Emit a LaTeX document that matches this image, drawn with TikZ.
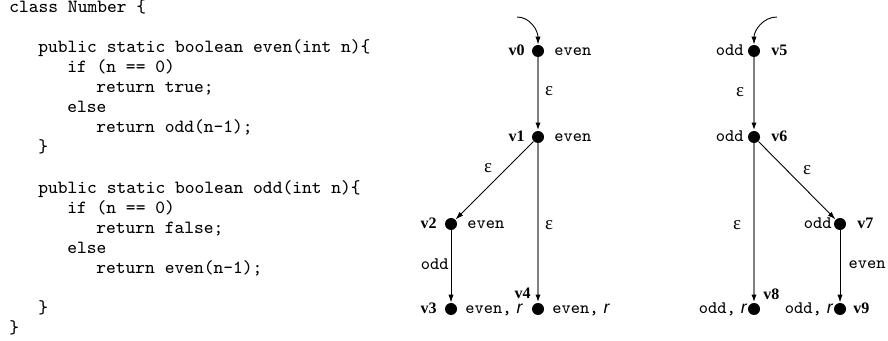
\documentclass[tikz,border=0pt]{standalone}
\usepackage{fontspec}
\setmainfont{Liberation Serif}
\newfontfamily\sansit{Liberation Sans}
\usetikzlibrary{arrows.meta}
\begin{document}
\begin{tikzpicture}[x=0.5pt,y=-0.5pt,
  code/.style={anchor=base west,inner sep=0pt,font=\fontsize{9.3}{10}\selectfont\ttfamily},
  dot/.style={circle,fill=black,inner sep=0pt,minimum size=6pt},
  tlbl/.style={inner sep=0pt,font=\fontsize{8.8}{10}\selectfont\ttfamily},
  vlbl/.style={inner sep=0pt,font=\fontsize{8}{10}\selectfont\bfseries},
  eps/.style={inner sep=0pt,font=\fontsize{9.5}{10}\selectfont},
  tip/.style={-{Latex[length=4pt,width=2.6pt,black]}},
  gedge/.style={tip,draw=black!50,line width=1.1pt},
  bedge/.style={tip,draw=black,line width=0.45pt}]
\useasboundingbox (0,0) rectangle (888,341);
% code
\node[code] (c1) at (9,13) {class Number \{};
\node[code] (c2) at (38,53) {public static boolean even(int n)\{};
\node[code] (c3) at (67,73) {if (n == 0)};
\node[code] (c4) at (96,93) {return true;};
\node[code] (c5) at (67,113) {else};
\node[code] (c6) at (96,133) {return odd(n-1);};
\node[code] (c7) at (38,153) {\}};
\node[code] (c8) at (38,194) {public static boolean odd(int n)\{};
\node[code] (c9) at (67,214) {if (n == 0)};
\node[code] (c10) at (96,234) {return false;};
\node[code] (c11) at (67,254) {else};
\node[code] (c12) at (96,274) {return even(n-1);};
\node[code] (c13) at (38,314) {\}};
\node[code] (c14) at (9,334) {\}};
% left graph
\node[dot] (v0) at (538,51) {};
\node[dot] (v1) at (538,137) {};
\node[dot] (v2) at (451,224) {};
\node[dot] (v3) at (451,309) {};
\node[dot] (v4) at (538,309) {};
\coordinate (s0) at (517,17);
\node[vlbl,anchor=mid east] (n0) at (525,51) {v0};
\node[tlbl,anchor=mid west] (t0) at (554,51) {even};
\node[vlbl,anchor=mid east] (n1) at (525,137) {v1};
\node[tlbl,anchor=mid west] (t1) at (554,137) {even};
\node[vlbl,anchor=mid east] (n2) at (437,224) {v2};
\node[tlbl,anchor=mid west] (t2) at (467,224) {even};
\node[vlbl,anchor=mid east] (n3) at (437,309) {v3};
\node[tlbl,anchor=mid west] (t3) at (465,309) {even,\hspace{2.5pt}{\sansit\itshape r}};
\node[vlbl,anchor=mid east] (n4) at (531,294) {v4};
\node[tlbl,anchor=mid west] (t4) at (552,309) {even,\hspace{2.5pt}{\sansit\itshape r}};
\draw[bedge] (s0) to[out=0,in=90] (v0);
\draw[gedge] (v0) -- (v1);
\node[eps] (e01) at (549,91) {ε};
\draw[bedge] (v1) -- (v2);
\node[eps] (e12) at (488,168) {ε};
\draw[gedge] (v1) -- (v4);
\node[eps] (e14) at (549,225) {ε};
\draw[bedge] (v2) -- (v3);
\node[tlbl,anchor=mid east] (o23) at (449,265) {odd};
% right graph
\node[dot] (v5) at (754,51) {};
\node[dot] (v6) at (754,137) {};
\node[dot] (v7) at (840,224) {};
\node[dot] (v8) at (754,309) {};
\node[dot] (v9) at (840,309) {};
\coordinate (s5) at (777,17);
\node[tlbl,anchor=mid east] (t5) at (744,51) {odd};
\node[vlbl,anchor=mid west] (n5) at (771,51) {v5};
\node[tlbl,anchor=mid east] (t6) at (744,137) {odd};
\node[vlbl,anchor=mid west] (n6) at (771,137) {v6};
\node[tlbl,anchor=mid east] (t7) at (832,224) {odd};
\node[vlbl,anchor=mid west] (n7) at (857,224) {v7};
\node[tlbl,anchor=mid east] (t8) at (747,309) {odd,\hspace{2.5pt}{\sansit\itshape r}};
\node[vlbl,anchor=mid west] (n8) at (763,295) {v8};
\node[tlbl,anchor=mid east] (t9) at (833,309) {odd,\hspace{2.5pt}{\sansit\itshape r}};
\node[vlbl,anchor=mid west] (n9) at (853,309) {v9};
\draw[bedge] (s5) to[out=180,in=90] (v5);
\draw[gedge] (v5) -- (v6);
\node[eps] (e56) at (740,92) {ε};
\draw[bedge] (v6) -- (v7);
\node[eps] (e67) at (807,170) {ε};
\draw[gedge] (v6) -- (v8);
\node[eps] (e68) at (737,225) {ε};
\draw[bedge] (v7) -- (v9);
\node[tlbl,anchor=mid east] (o79) at (886,264) {even};
\end{tikzpicture}
\end{document}
